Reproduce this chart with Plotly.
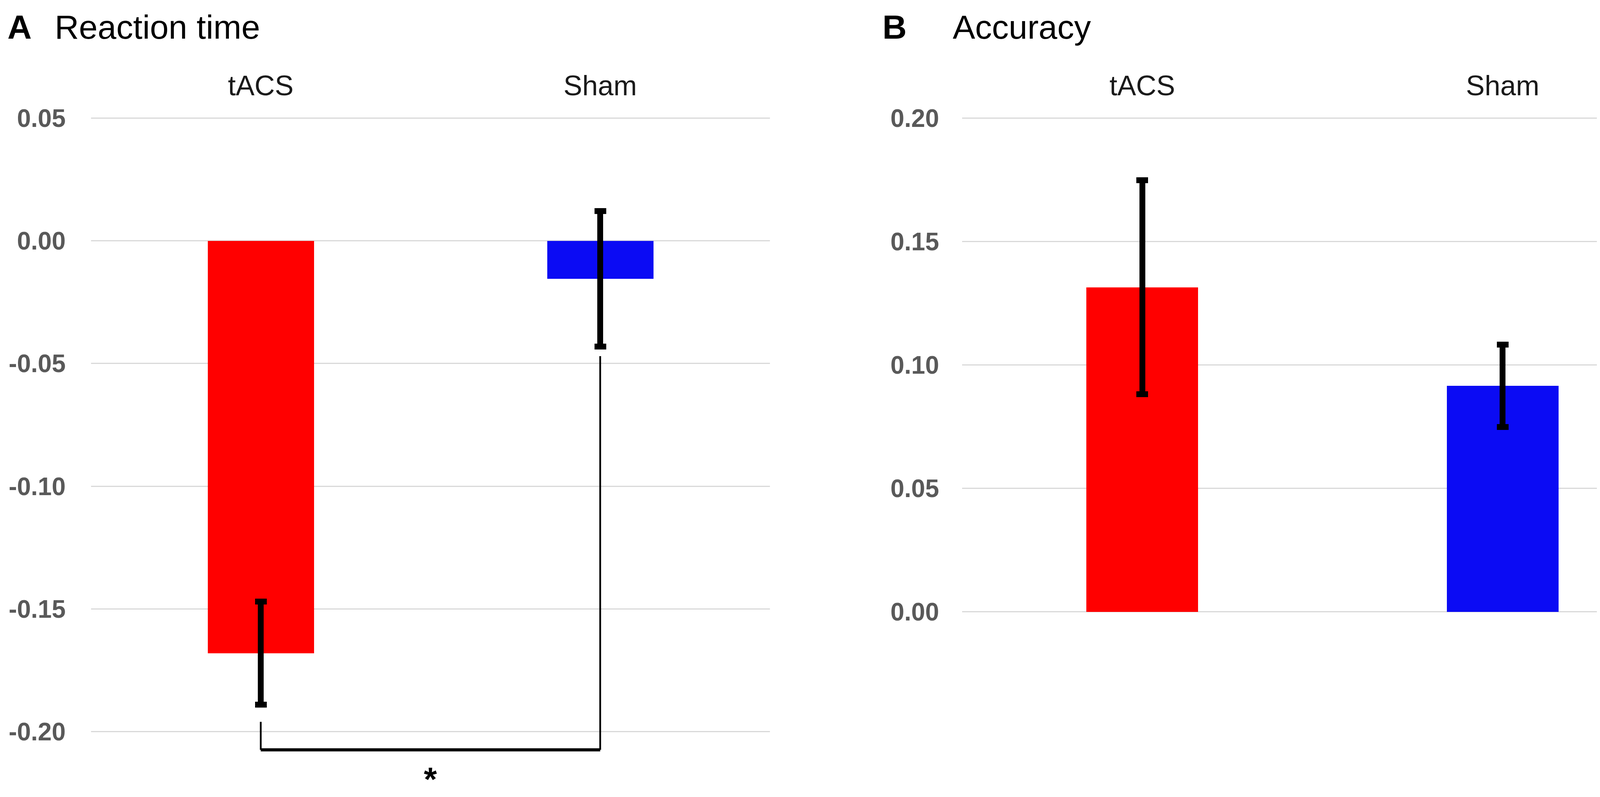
import plotly.graph_objects as go

# =========================
# 0. DATA
# =========================
CONDITIONS = ["tACS", "Sham"]
BAR_COLORS = ["#ff0000", "#0b0bf4"]

RT_MEAN = [-0.168, -0.0155]
RT_ERR = [0.021, 0.0276]

ACC_MEAN = [0.1315, 0.0915]
ACC_ERR = [0.0434, 0.0167]

RT_TICKS = [0.05, 0.00, -0.05, -0.10, -0.15, -0.20]
ACC_TICKS = [0.20, 0.15, 0.10, 0.05, 0.00]

# significance bracket (reaction time, tACS vs Sham)
SIG_LEFT_TOP = -0.196
SIG_RIGHT_TOP = -0.047
SIG_BOTTOM = -0.2074
SIG_STAR_Y = -0.2271

# =========================
# 1. LAYOUT CONSTANTS
# =========================
W, H = 4317, 2041
TOP_PX = 260
FONT = "Liberation Sans, Arial, Helvetica, sans-serif"
GRID = "#d9d9d9"
TICK_GRAY = "#595959"

RT_RANGE = [-0.2279, 0.0541]
ACC_RANGE = [-0.0764, 0.2041]

fig = go.Figure()

# =========================
# 2. BARS
# =========================
fig.add_trace(go.Bar(
    x=CONDITIONS, y=RT_MEAN, marker=dict(color=BAR_COLORS, line=dict(width=0)),
    width=0.313, xaxis="x", yaxis="y", showlegend=False,
    error_y=dict(type="data", array=RT_ERR, color="black", thickness=15, width=15)
))
fig.add_trace(go.Bar(
    x=CONDITIONS, y=ACC_MEAN, marker=dict(color=BAR_COLORS, line=dict(width=0)),
    width=0.31, xaxis="x2", yaxis="y2", showlegend=False,
    error_y=dict(type="data", array=ACC_ERR, color="black", thickness=15, width=15)
))

# significance bracket: thin legs, heavier bottom bar
fig.add_trace(go.Scatter(
    x=[CONDITIONS[0], CONDITIONS[0], None, CONDITIONS[1], CONDITIONS[1]],
    y=[SIG_LEFT_TOP, SIG_BOTTOM, None, SIG_BOTTOM, SIG_RIGHT_TOP],
    mode="lines", line=dict(color="black", width=4.5),
    xaxis="x", yaxis="y", showlegend=False, hoverinfo="skip"
))
fig.add_trace(go.Scatter(
    x=CONDITIONS, y=[SIG_BOTTOM, SIG_BOTTOM],
    mode="lines", line=dict(color="black", width=8),
    xaxis="x", yaxis="y", showlegend=False, hoverinfo="skip"
))
fig.add_annotation(
    x=0.5, y=SIG_STAR_Y, xref="x", yref="y", yanchor="bottom", text="<b>*</b>",
    showarrow=False, borderpad=0, font=dict(family=FONT, size=86, color="black")
)

# =========================
# 3. AXES
# =========================
xcommon = dict(
    type="category", range=[-0.5, 1.5], side="top", showgrid=False, showline=False,
    zeroline=False, ticks="", ticklabelstandoff=17,
    tickfont=dict(family=FONT, size=72, color="#1a1a1a")
)
ycommon = dict(
    domain=[0, 1 - TOP_PX / H], showline=False, zeroline=False, ticks="",
    gridcolor=GRID, gridwidth=3,
    tickfont=dict(family=FONT, size=64, color=TICK_GRAY, weight="bold")
)

fig.update_layout(
    width=W, height=H, autosize=False,
    margin=dict(l=0, r=0, t=0, b=0),
    paper_bgcolor="white", plot_bgcolor="white",
    xaxis=dict(domain=[225 / W, 1963 / W], anchor="y", **xcommon),
    xaxis2=dict(domain=[2455 / W, 4300 / W], anchor="y2", **xcommon),
    yaxis=dict(anchor="x", range=RT_RANGE, tickvals=RT_TICKS, ticklabelstandoff=64,
               ticktext=[f"{v:.2f}" for v in RT_TICKS], **ycommon),
    yaxis2=dict(anchor="x2", range=ACC_RANGE, tickvals=ACC_TICKS, ticklabelstandoff=58,
                ticktext=[f"{v:.2f}" for v in ACC_TICKS], **ycommon),
    bargap=0
)

# =========================
# 4. PANEL TITLES
# =========================
titles = [("<b>A</b>", 10), ("Reaction time", 131), ("<b>B</b>", 2250), ("Accuracy", 2430)]
for txt, px in titles:
    fig.add_annotation(
        x=px / W, y=1.0 - 2 / H, xref="paper", yref="paper", xanchor="left", yanchor="top",
        text=txt, showarrow=False, borderpad=0,
        font=dict(family=FONT, size=86, color="black")
    )

fig.write_html("out.html")
